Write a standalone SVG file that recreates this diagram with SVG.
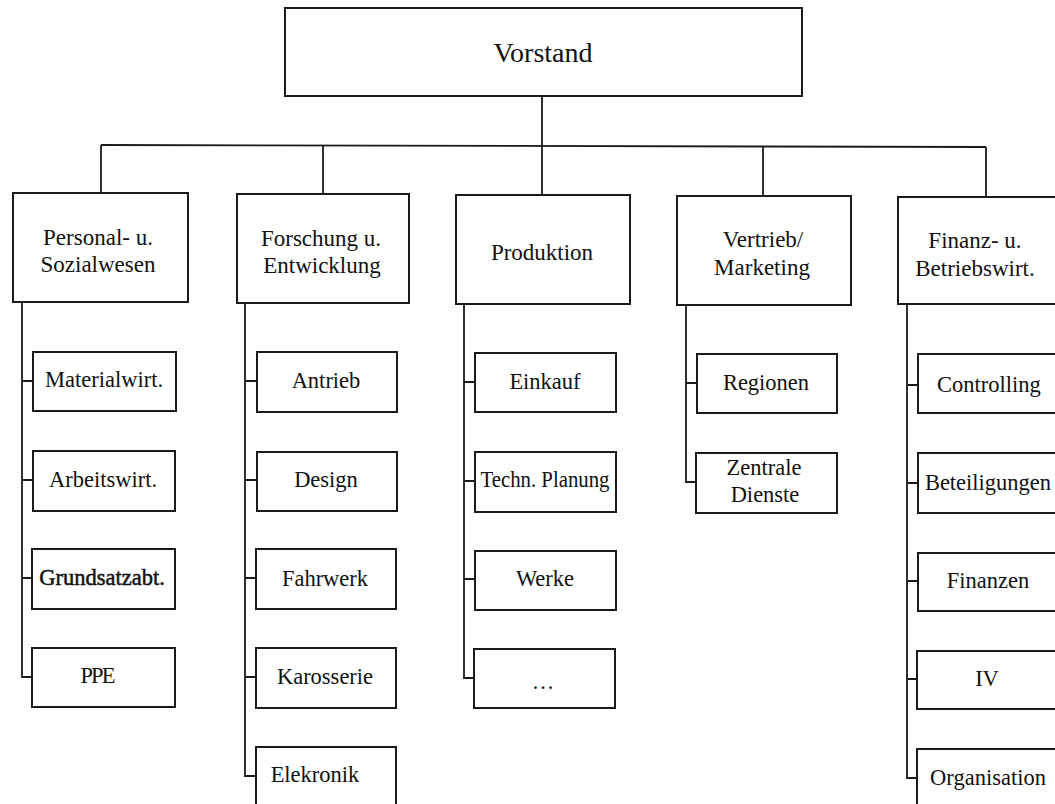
<svg xmlns="http://www.w3.org/2000/svg" width="1055" height="804" viewBox="0 0 1055 804">
  <style>
    .box { fill: #ffffff; stroke: #1a1a1a; stroke-width: 2; }
    .wire { fill: none; stroke: #1a1a1a; stroke-width: 1.8; stroke-linejoin: miter; }
    .label text { fill: #111111; text-anchor: middle; }
    .top { font-size: 28px; }
    .dept { font-size: 23px; }
    .unit { font-size: 22.5px; }
    .heavy { stroke: #111111; stroke-width: 0.5; }
  </style>

  <rect width="1055" height="804" fill="#ffffff"/>

  <!-- connectors -->
  <g id="connectors" class="wire">
    <!-- board to department bus -->
    <line x1="542" y1="96" x2="542" y2="146"/>
    <line x1="101" y1="145" x2="986" y2="147"/>
    <line x1="101" y1="145" x2="101" y2="193"/>
    <line x1="323" y1="145.5" x2="323" y2="194"/>
    <line x1="542" y1="146" x2="542" y2="195"/>
    <line x1="763" y1="146.5" x2="763" y2="196"/>
    <line x1="986" y1="147" x2="986" y2="197"/>

    <!-- Personal- u. Sozialwesen -->
    <path d="M22 302 V677 H33 M22 381 H33 M22 480 H33 M22 578 H33"/>
    <!-- Forschung u. Entwicklung -->
    <path d="M245 303 V776 H257 M245 381 H257 M245 480 H257 M245 578 H257 M245 677 H257"/>
    <!-- Produktion -->
    <path d="M464 304 V678 H475 M464 382 H475 M464 481 H475 M464 579 H475"/>
    <!-- Vertrieb/Marketing -->
    <path d="M686 305 V482 H697 M686 383 H697"/>
    <!-- Finanz- u. Betriebswirt. -->
    <path d="M907 304 V778 H918 M907 385 H918 M907 483 H918 M907 581 H918 M907 679 H918"/>
  </g>

  <g class="label" font-family="'Liberation Serif', 'DejaVu Serif', serif">
  <!-- board -->
  <g id="vorstand">
    <rect class="box" x="285" y="8" width="517" height="88"/>
    <text class="top" x="543" y="62">Vorstand</text>
  </g>

  <!-- departments -->
  <g id="personal">
    <rect class="box" x="13" y="193" width="175" height="109"/>
    <text class="dept" x="98" y="245">Personal- u.</text>
    <text class="dept" x="98" y="272">Sozialwesen</text>
  </g>
  <g id="forschung">
    <rect class="box" x="237" y="194" width="172" height="109"/>
    <text class="dept" x="321" y="246">Forschung u.</text>
    <text class="dept" x="322" y="273">Entwicklung</text>
  </g>
  <g id="produktion">
    <rect class="box" x="456" y="195" width="174" height="109"/>
    <text class="dept" x="542" y="260">Produktion</text>
  </g>
  <g id="vertrieb">
    <rect class="box" x="677" y="196" width="174" height="109"/>
    <text class="dept" x="763" y="247">Vertrieb/</text>
    <text class="dept" x="762" y="275">Marketing</text>
  </g>
  <g id="finanz">
    <rect class="box" x="898" y="197" width="174" height="107"/>
    <text class="dept" x="975" y="248">Finanz- u.</text>
    <text class="dept" x="975" y="276">Betriebswirt.</text>
  </g>

  <!-- Personal- u. Sozialwesen units -->
  <g id="materialwirt">
    <rect class="box" x="33" y="352" width="143" height="59"/>
    <text class="unit" x="104" y="387">Materialwirt.</text>
  </g>
  <g id="arbeitswirt">
    <rect class="box" x="33" y="451" width="142" height="60"/>
    <text class="unit" x="103" y="487">Arbeitswirt.</text>
  </g>
  <g id="grundsatzabt">
    <rect class="box" x="32" y="549" width="143" height="60"/>
    <text class="unit heavy" x="102" y="585">Grundsatzabt.</text>
  </g>
  <g id="ppe">
    <rect class="box" x="32" y="648" width="143" height="59"/>
    <text class="unit" x="97" y="683" letter-spacing="-2">PPE</text>
  </g>

  <!-- Forschung u. Entwicklung units -->
  <g id="antrieb">
    <rect class="box" x="257" y="352" width="140" height="60"/>
    <text class="unit" x="326" y="388">Antrieb</text>
  </g>
  <g id="design">
    <rect class="box" x="257" y="452" width="140" height="59"/>
    <text class="unit" x="326" y="487">Design</text>
  </g>
  <g id="fahrwerk">
    <rect class="box" x="256" y="549" width="140" height="60"/>
    <text class="unit" x="325" y="586">Fahrwerk</text>
  </g>
  <g id="karosserie">
    <rect class="box" x="256" y="648" width="140" height="60"/>
    <text class="unit" x="325" y="684">Karosserie</text>
  </g>
  <g id="elekronik">
    <rect class="box" x="256" y="747" width="140" height="62"/>
    <text class="unit" x="315" y="782">Elekronik</text>
  </g>

  <!-- Produktion units -->
  <g id="einkauf">
    <rect class="box" x="475" y="353" width="141" height="59"/>
    <text class="unit" x="545" y="389">Einkauf</text>
  </g>
  <g id="planung">
    <rect class="box" x="475" y="452" width="141" height="60"/>
    <text class="unit" x="545" y="487" font-size="21" textLength="129" lengthAdjust="spacingAndGlyphs">Techn. Planung</text>
  </g>
  <g id="werke">
    <rect class="box" x="475" y="551" width="141" height="59"/>
    <text class="unit" x="545" y="586">Werke</text>
  </g>
  <g id="weitere">
    <rect class="box" x="474" y="649" width="141" height="59"/>
    <text class="unit" x="543" y="689">…</text>
  </g>

  <!-- Vertrieb/Marketing units -->
  <g id="regionen">
    <rect class="box" x="697" y="354" width="140" height="59"/>
    <text class="unit" x="766" y="390">Regionen</text>
  </g>
  <g id="dienste">
    <rect class="box" x="696" y="453" width="141" height="60"/>
    <text class="unit" x="764" y="475">Zentrale</text>
    <text class="unit" x="765" y="502">Dienste</text>
  </g>

  <!-- Finanz- u. Betriebswirt. units -->
  <g id="controlling">
    <rect class="box" x="918" y="354" width="142" height="59"/>
    <text class="unit" x="989" y="392">Controlling</text>
  </g>
  <g id="beteiligungen">
    <rect class="box" x="918" y="453" width="142" height="60"/>
    <text class="unit" x="988" y="490">Beteiligungen</text>
  </g>
  <g id="finanzen">
    <rect class="box" x="918" y="553" width="142" height="58"/>
    <text class="unit" x="988" y="588">Finanzen</text>
  </g>
  <g id="iv">
    <rect class="box" x="917" y="651" width="143" height="58"/>
    <text class="unit" x="987" y="686">IV</text>
  </g>
  <g id="organisation">
    <rect class="box" x="917" y="749" width="143" height="60"/>
    <text class="unit" x="988" y="785">Organisation</text>
  </g>
  </g>
</svg>
